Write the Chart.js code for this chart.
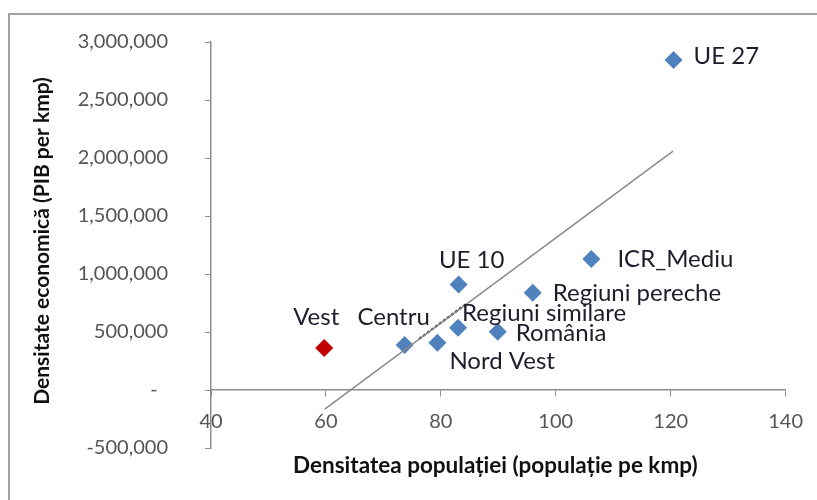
<!DOCTYPE html>
<html>
<head>
<meta charset="utf-8">
<script src="https://cdn.jsdelivr.net/npm/chart.js@4.4.1/dist/chart.umd.min.js"></script>
<style>
  html, body { margin: 0; padding: 0; background: #fff; }
  #wrap { position: relative; width: 817px; height: 500px; overflow: hidden; background: #fff; }
  #frame { position: absolute; left: 8px; top: 13px; width: 900px; height: 600px; border: 2px solid #a3a3a3; box-sizing: border-box; }
  canvas { position: absolute; left: 0; top: 0; }
</style>
</head>
<body>
<div id="wrap">
  <div id="frame"></div>
  <canvas id="c" width="817" height="500"></canvas>
</div>
<script>
// ---- Data ----
const regionNames   = ['UE 27', 'ICR_Mediu', 'Regiuni pereche', 'UE 10', 'Regiuni similare', 'România', 'Nord Vest', 'Centru'];
const regionPop     = [120.5, 106.2, 96.0, 83.1, 83.0, 89.9, 79.4, 73.7];
const regionEcon    = [2845000, 1130000, 839000, 910000, 536000, 502000, 407000, 389000];

const focusNames    = ['Vest'];
const focusPop      = [59.7];
const focusEcon     = [363000];

const trendPop      = [59.8, 120.4];
const trendEcon     = [-164000, 2060000];
const trendMarkPop  = [76.2, 84.5];
const trendMarkEcon = [440000, 745000];

const xTickValues   = [40, 60, 80, 100, 120, 140];
const yTickValues   = [-500000, 0, 500000, 1000000, 1500000, 2000000, 2500000, 3000000];

const xTitle = 'Densitatea populației (populație pe kmp)';
const yTitle = 'Densitate economică (PIB per kmp)';

// ---- Label placement (style/layout only) ----
const labelFont = '24px Lato, "Open Sans", sans-serif';
const regionLabelPlace = [
  {dx: 20, dy: -4, align: 'left'},    // UE 27
  {dx: 26, dy: 0, align: 'left'},     // ICR_Mediu
  {dx: 20, dy: 1, align: 'left'},     // Regiuni pereche
  {dx: 13, dy: -24, align: 'center'}, // UE 10
  {dx: 4, dy: -15, align: 'left'},    // Regiuni similare
  {dx: 18, dy: 1, align: 'left'},     // România
  {dx: 12, dy: 18, align: 'left'},    // Nord Vest
  {dx: -11, dy: -28, align: 'center'} // Centru
];
const focusLabelPlace = [{dx: -8, dy: -31, align: 'center'}];

const toPoints = (xs, ys) => xs.map((x, i) => ({x: x, y: ys[i]}));

const labelPlugin = {
  id: 'pointLabels',
  afterDatasetsDraw(chart) {
    const ctx = chart.ctx;
    ctx.save();
    ctx.font = labelFont;
    ctx.fillStyle = '#1d1d2b';
    ctx.textBaseline = 'middle';
    chart.data.datasets.forEach((ds, di) => {
      if (!ds.labelNames) return;
      const meta = chart.getDatasetMeta(di);
      meta.data.forEach((el, i) => {
        const p = ds.labelPlace[i];
        ctx.textAlign = p.align;
        ctx.fillText(ds.labelNames[i], el.x + p.dx, el.y + p.dy);
      });
    });
    // axis titles
    ctx.fillStyle = '#111';
    ctx.textAlign = 'center';
    ctx.textBaseline = 'middle';
    const ca = chart.chartArea;
    ctx.font = 'bold 22.5px Lato, "Open Sans", sans-serif';
    ctx.fillText(xTitle, (ca.left + ca.right) / 2 - 3, 466);
    ctx.save();
    ctx.font = 'bold 21px Lato, "Open Sans", sans-serif';
    ctx.translate(42, (ca.top + ca.bottom) / 2 - 4);
    ctx.rotate(-Math.PI / 2);
    ctx.fillText(yTitle, 0, 0);
    ctx.restore();
    ctx.restore();
  }
};

const axisColor = '#8e8e8e';
const tickFont = {family: 'Lato, "Open Sans", sans-serif', size: 20};

new Chart(document.getElementById('c'), {
  type: 'scatter',
  data: {
    datasets: [
      {
        type: 'line',
        data: toPoints(trendPop, trendEcon),
        borderColor: '#8a8a8a',
        borderWidth: 1.5,
        pointRadius: 0,
        fill: false,
        order: 0
      },
      {
        type: 'line',
        data: toPoints(trendMarkPop, trendMarkEcon),
        borderColor: '#111111',
        borderWidth: 2,
        borderDash: [3, 2],
        pointRadius: 0,
        fill: false,
        order: 0
      },
      {
        data: toPoints(regionPop, regionEcon),
        pointStyle: 'rectRot',
        pointRadius: 9,
        backgroundColor: '#4f81bd',
        borderColor: '#4f81bd',
        borderWidth: 0,
        labelNames: regionNames,
        labelPlace: regionLabelPlace,
        order: 1
      },
      {
        data: toPoints(focusPop, focusEcon),
        pointStyle: 'rectRot',
        pointRadius: 9,
        backgroundColor: '#c00000',
        borderColor: '#c00000',
        borderWidth: 0,
        labelNames: focusNames,
        labelPlace: focusLabelPlace,
        order: 1
      }
    ]
  },
  options: {
    responsive: false,
    animation: false,
    events: [],
    layout: {padding: {top: 42, right: 31, bottom: 52, left: 0}},
    plugins: {legend: {display: false}, tooltip: {enabled: false}},
    scales: {
      x: {
        type: 'linear',
        position: {y: 0},
        min: 40, max: 140,
        afterBuildTicks: s => { s.ticks = xTickValues.map(v => ({value: v})); },
        afterFit: s => { s.height = 0; },
        ticks: {color: '#555', font: tickFont, padding: 14, maxRotation: 0},
        grid: {drawOnChartArea: false, drawTicks: true, tickLength: 6, color: axisColor},
        border: {display: true, color: axisColor, width: 1.5}
      },
      y: {
        type: 'linear',
        position: 'left',
        min: -500000, max: 3000000,
        afterBuildTicks: s => { s.ticks = yTickValues.map(v => ({value: v})); },
        afterFit: s => { s.width = 211; s.paddingTop = 10; s.paddingBottom = 10; },
        ticks: {
          color: '#555', font: tickFont, padding: 37,
          callback: v => v === 0 ? '-  ' : v.toLocaleString('en-US')
        },
        grid: {drawOnChartArea: false, drawTicks: true, tickLength: 6, color: axisColor},
        border: {display: true, color: axisColor, width: 1.5}
      }
    }
  },
  plugins: [labelPlugin]
});
</script>
</body>
</html>
